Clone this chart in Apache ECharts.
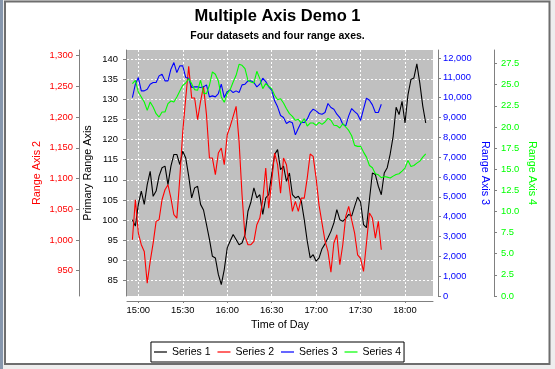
<!DOCTYPE html>
<html><head><meta charset="utf-8">
<script src="https://cdn.jsdelivr.net/npm/echarts@6/dist/echarts.min.js"></script>
<style>html,body{margin:0;padding:0;background:#eeeeee}#c{width:555px;height:369px}</style>
</head><body><div id="c"></div>
<script>
// ---- data ----
const seriesNames = ['Series 1', 'Series 2', 'Series 3', 'Series 4'];
const startMinute = -4;   // first sample, minutes after 15:00
const stepMinutes = 2;    // sampling step of the arrays below
const xTickLabels = ['15:00', '15:30', '16:00', '16:30', '17:00', '17:30', '18:00'];

const series1Values = [
  100.1, 98.5, 103.9, 107.2, 103.9, 108.8, 112.1, 105.9, 107.2, 110.9,
  113.0, 113.4, 108.8, 113.4, 116.3, 116.3, 113.8, 117.1, 115.4, 110.9,
  105.5, 108.0, 108.4, 103.9, 102.5, 98.9, 95.2, 91.0, 90.6, 86.5,
  84.0, 87.7, 93.1, 94.8, 96.4, 95.2, 93.9, 94.3, 96.4, 102.2,
  104.5, 108.0, 105.5, 106.3, 101.4, 105.5, 106.3, 111.3, 116.3, 117.5,
  112.5, 113.4, 109.6, 111.7, 106.3, 105.5, 105.9, 104.7, 100.1, 94.8,
  90.6, 91.4, 89.8, 90.6, 92.9, 94.1, 95.6, 97.2, 99.3, 102.6,
  100.1, 99.7, 100.4, 101.4, 101.0, 103.4, 105.7, 104.5, 98.9, 98.1,
  105.1, 111.7, 111.3, 108.4, 106.3, 111.7, 113.0, 116.4, 120.8, 128.0,
  126.2, 129.5, 124.1, 131.1, 134.9, 135.3, 138.8, 134.0, 128.3, 124.1
];
const series2Values = [
  1000.4, 1065.5, 1011.3, 992.3, 981.4, 929.8, 965.1, 995.0, 1030.3, 1033.0,
  1065.5, 1081.8, 1090.0, 1068.2, 1041.1, 1035.6, 1100.8, 1176.8, 1231.1, 1282.7,
  1231.1, 1231.1, 1195.8, 1225.6, 1250.0, 1204.0, 1133.4, 1133.4, 1106.3, 1141.5,
  1149.7, 1122.5, 1171.4, 1185.0, 1201.3, 1217.6, 1160.5, 1073.7, 1005.8, 992.3,
  992.3, 997.7, 1024.9, 1035.7, 1065.5, 1117.1, 1051.9, 1095.4, 1141.5, 1122.5,
  1076.0, 1133.4, 1122.5, 1084.5, 1046.5, 1062.8, 1046.5, 1068.2, 1068.2, 1100.8,
  1139.9, 1136.1, 1100.8, 1056.3, 1027.5, 998.7, 981.4, 947.7, 995.0, 1008.6,
  959.7, 992.3, 1038.4, 1054.6, 1032.9, 1011.2, 975.9, 970.0, 948.7, 995.0,
  1043.8, 1035.7, 1003.1, 1030.3, 984.1
];
const series3Values = [
  10003, 10676, 11012, 10340, 10340, 10424, 10676, 10760, 10760, 11096,
  11180, 10844, 10844, 11432, 11768, 11264, 11600, 11600, 11012, 10978,
  10508, 10542, 10542, 10508, 10542, 10643, 10038, 10088, 10038, 10206,
  10676, 10004, 10306, 10391, 10256, 10340, 10256, 10643, 10676, 10844,
  10844, 10760, 10542, 10676, 10978, 10810, 10542, 10374, 9836, 9534,
  9100, 8996, 8694, 8795, 8728, 8123, 8459, 8761, 8744, 8912,
  9248, 9416, 9332, 9198, 9164, 9248, 9702, 9500, 9416, 9164,
  8996, 8660, 8576, 9080, 9450, 9298, 9164, 8850, 9416, 9971,
  9870, 9635, 9248, 9248, 9668
];
const series4Values = [
  25.12, 25.52, 24.13, 23.54, 22.95, 21.96, 22.95, 22.35, 21.57, 21.17,
  21.76, 21.76, 22.75, 23.07, 22.95, 23.54, 24.25, 24.92, 25.20, 25.71,
  25.12, 24.41, 24.33, 25.52, 24.00, 23.94, 24.93, 26.50, 26.23, 25.44,
  23.55, 22.91, 23.94, 24.41, 25.32, 26.11, 27.41, 27.29, 26.90, 25.52,
  25.32, 25.20, 26.58, 25.71, 24.53, 25.12, 24.81, 24.53, 23.74, 23.22,
  23.34, 22.83, 22.16, 21.57, 21.25, 20.78, 20.90, 20.46, 20.98, 20.11,
  20.46, 20.46, 20.19, 20.54, 20.30, 20.58, 21.01, 20.78, 20.19, 20.15,
  19.87, 20.38, 19.99, 19.59, 18.96, 17.82, 17.70, 17.70, 17.02, 16.43,
  15.44, 15.17, 14.46, 14.34, 13.99, 14.14, 14.06, 13.95, 14.18, 14.38,
  14.46, 14.78, 15.13, 16.04, 15.33, 15.44, 15.72, 15.96, 16.43, 16.82
];

// ---- chart ----
// x values are minutes after 15:00
function toPairs(vals) {
  return vals.map((v, i) => [startMinute + i * stepMinutes, v]);
}
function minuteLabel(m) {
  const h = 15 + Math.floor(m / 60);
  const mm = Math.round(m - Math.floor(m / 60) * 60);
  const s = String(h).padStart(2, '0') + ':' + String(mm).padStart(2, '0');
  return xTickLabels.indexOf(s) >= 0 ? s : '';
}
const font = "'Liberation Sans', Arial, Helvetica, sans-serif";
const gray = '#808080';
const tickFont = 9.4, nameFont = 10.8;

function yAxisBase(o) {
  return Object.assign({
    type: 'value',
    nameLocation: 'middle',
    nameMoveOverlap: false,
    axisLine: { show: true, onZero: false, lineStyle: { color: gray, width: 1 } },
    axisTick: { show: true, length: 3, lineStyle: { color: gray } },
    splitLine: { show: false }
  }, o);
}

const chart = echarts.init(document.getElementById('c'), null, { renderer: 'canvas' });
chart.setOption({
  animation: false,
  backgroundColor: '#eeeeee',
  textStyle: { fontFamily: font },
  graphic: [
    { type: 'rect', z: -100, shape: { x: 0, y: 0, width: 3, height: 369 }, style: { fill: '#8797ad' } },
    { type: 'rect', z: -100, shape: { x: 5, y: 1.5, width: 544.5, height: 362.5 },
      style: { fill: '#ffffff', stroke: '#6e6e6e', lineWidth: 2 } }
  ],
  title: [
    { text: 'Multiple Axis Demo 1', left: 'center', top: 7.5, padding: 0,
      textStyle: { fontSize: 16.5, fontWeight: 'bold', color: '#000', fontFamily: font } },
    { text: 'Four datasets and four range axes.', left: 'center', top: 30.5, padding: 0,
      textStyle: { fontSize: 10.5, fontWeight: 'bold', color: '#000', fontFamily: font } }
  ],
  legend: {
    data: seriesNames, left: 'center', top: 342, padding: [4, 3], itemGap: 7,
    icon: 'rect', itemWidth: 13, itemHeight: 1.2,
    borderColor: '#000', borderWidth: 1, borderRadius: 0,
    textStyle: { fontSize: 10.5, color: '#000', fontFamily: font, lineHeight: 12 }
  },
  grid: { left: 127, right: 122, top: 50, bottom: 73, show: true, backgroundColor: '#c0c0c0', borderWidth: 0 },
  xAxis: {
    type: 'value',
    min: -7.65, max: 198.9, splitNumber: 7,
    offset: 5,
    name: 'Time of Day', nameLocation: 'middle', nameGap: 19, nameMoveOverlap: false,
    nameTextStyle: { fontSize: nameFont, color: '#000', fontFamily: font },
    axisLine: { show: true, onZero: false, lineStyle: { color: gray } },
    axisTick: { show: true, length: 2, lineStyle: { color: gray } },
    axisLabel: {
      fontSize: tickFont, color: '#000', margin: 5, showMinLabel: false, showMaxLabel: false,
      formatter: minuteLabel
    },
    splitLine: { show: true, showMinLine: false, showMaxLine: false, lineStyle: { color: '#ffffff', type: [2, 2], width: 1 } }
  },
  yAxis: [
    yAxisBase({
      position: 'left', offset: 1, min: 81.15, max: 142.23, splitNumber: 12,
      name: 'Primary Range Axis', nameRotate: 90, nameGap: 32,
      nameTextStyle: { fontSize: nameFont, color: '#000', fontFamily: font },
      axisLabel: { fontSize: tickFont, color: '#000', margin: 8, showMinLabel: false, showMaxLabel: false },
      splitLine: { show: true, showMinLine: false, showMaxLine: false, lineStyle: { color: '#ffffff', type: [2, 2], width: 1 } }
    }),
    yAxisBase({
      position: 'left', offset: 48, min: 908.8, max: 1309.3, splitNumber: 8,
      name: 'Range Axis 2', nameRotate: 90, nameGap: 36,
      nameTextStyle: { fontSize: nameFont, color: '#ff0000', fontFamily: font },
      axisLabel: { fontSize: tickFont, color: '#ff0000', margin: 6, showMinLabel: false, showMaxLabel: false }
    }),
    yAxisBase({
      position: 'right', offset: 5, min: 0, max: 12400, interval: 1000,
      name: 'Range Axis 3', nameRotate: -90, nameGap: 41,
      nameTextStyle: { fontSize: nameFont, color: '#0000ff', fontFamily: font },
      axisLabel: { fontSize: tickFont, color: '#0000ff', margin: 5, showMaxLabel: false }
    }),
    yAxisBase({
      position: 'right', offset: 61, min: 0, max: 29.1, interval: 2.5,
      name: 'Range Axis 4', nameRotate: -90, nameGap: 32,
      nameTextStyle: { fontSize: nameFont, color: '#00ff00', fontFamily: font },
      axisLabel: { fontSize: tickFont, color: '#00ff00', margin: 7, showMaxLabel: false,
        formatter: v => v.toFixed(1) }
    })
  ],
  series: [
    { name: seriesNames[0], type: 'line', yAxisIndex: 0, data: toPairs(series1Values), symbol: 'none', showSymbol: false,
      lineStyle: { color: '#000000', width: 1.1 }, itemStyle: { color: '#000000' } },
    { name: seriesNames[1], type: 'line', yAxisIndex: 1, data: toPairs(series2Values), symbol: 'none', showSymbol: false,
      lineStyle: { color: '#ff0000', width: 1.1 }, itemStyle: { color: '#ff0000' } },
    { name: seriesNames[2], type: 'line', yAxisIndex: 2, data: toPairs(series3Values), symbol: 'none', showSymbol: false,
      lineStyle: { color: '#0000ff', width: 1.1 }, itemStyle: { color: '#0000ff' } },
    { name: seriesNames[3], type: 'line', yAxisIndex: 3, data: toPairs(series4Values), symbol: 'none', showSymbol: false,
      lineStyle: { color: '#00ff00', width: 1.1 }, itemStyle: { color: '#00ff00' } }
  ]
});
</script></body></html>
